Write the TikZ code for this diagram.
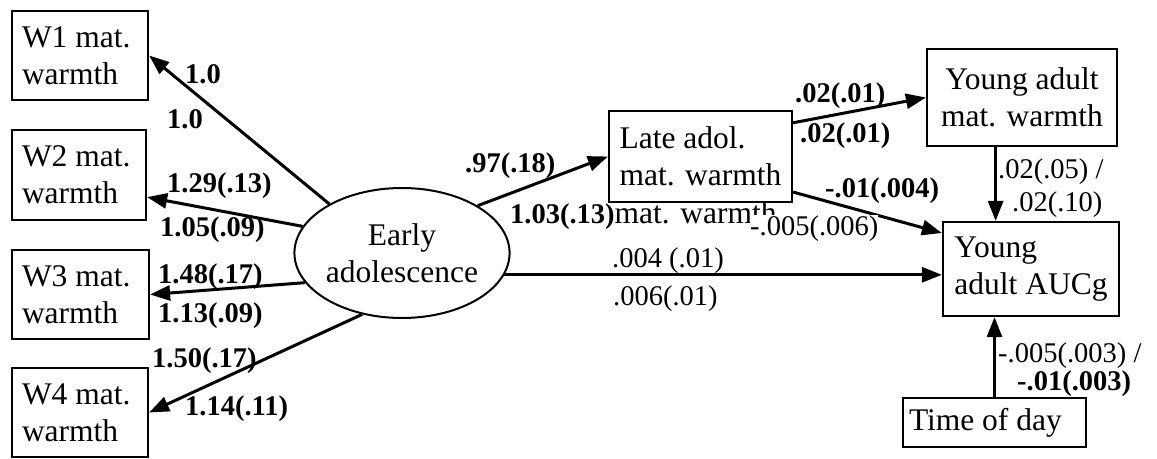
\documentclass[tikz,border=0pt]{standalone}
\usepackage{fontspec}
\setmainfont{Liberation Serif}
\usetikzlibrary{arrows.meta,shapes.geometric,calc}
\begin{document}
\begin{tikzpicture}[x=1pt,y=-1pt,
  box/.style={draw,line width=2.2pt,rectangle,inner sep=0pt,align=flush left,font=\fontsize{31.5}{37}\selectfont},
  lbl/.style={inner sep=0pt,anchor=base west,font=\fontsize{28.5}{33}\selectfont},
  blbl/.style={inner sep=0pt,anchor=base west,font=\fontsize{28.5}{33}\selectfont\bfseries},
  arr/.style={line width=3pt,-{Triangle[length=20pt,width=15pt]}}]
\useasboundingbox (0,0) rectangle (1157,458);
% boxes
\node[box,minimum width=136pt,minimum height=89pt,text width=116pt] (w1) at (80,55.5) {W1 mat.\\warmth};
\node[box,minimum width=134pt,minimum height=90pt,text width=114pt] (w2) at (79,175) {W2 mat.\\warmth};
\node[box,minimum width=137pt,minimum height=89pt,text width=117pt] (w3) at (80.5,294.5) {W3 mat.\\warmth};
\node[box,minimum width=136pt,minimum height=89pt,text width=116pt] (w4) at (80,412.5) {W4 mat.\\warmth};
\node[draw,ellipse,line width=2pt,inner sep=0pt,minimum width=200pt,minimum height=130pt,align=center,font=\fontsize{31.5}{37}\selectfont] (early) at (402,253) {Early\\adolescence};
\node[box,minimum width=183pt,minimum height=91pt,align=left] (late) at (700.5,156.5) {Late adol.\\mat. warmth};
\node[box,minimum width=190pt,minimum height=97pt,align=center] (yaw) at (1022,97.5) {Young adult\\mat. warmth};
\node[box,minimum width=176pt,minimum height=94pt,align=left] (auc) at (1031,269) {Young\\adult AUCg};
\node[box,minimum width=183pt,minimum height=49pt,text width=171pt] (tod) at (994.5,422.5) {Time of day};
% connectors
\draw[arr] (early.146) -- (w1.east);
\draw[arr] (early.165) -- (w2.-18);
\draw[arr] (early.197) -- (w3.east);
\draw[arr] (early.237) -- (w4.east);
\draw[arr] (early.32) -- (late.west);
\draw[arr] (early.-12) -- (early.-12 -| auc.west);
\draw[arr] (late.20) -- (yaw.west);
\draw[arr] (late.-21) -- (auc.158);
\draw[arr] (yaw.-118) -- (yaw.-118 |- auc.north);
\draw[arr] (tod.north) -- (tod.north |- auc.south);
% labels
\node[blbl] (l1a) at (185,83) {1.0};
\node[blbl] (l1b) at (167,128) {1.0};
\node[blbl] (l2a) at (167,192) {1.29(.13)};
\node[blbl] (l2b) at (160,236) {1.05(.09)};
\node[blbl] (l3a) at (158,283) {1.48(.17)};
\node[blbl] (l3b) at (158,322) {1.13(.09)};
\node[blbl] (l4a) at (152,367) {1.50(.17)};
\node[blbl] (l4b) at (185,415) {1.14(.11)};
\node[blbl] (l5a) at (465,172) {.97(.18)};
\node[lbl] (l5b) at (510,223) {\textbf{1.03(.13)}{\fontsize{31.5}{37}\selectfont mat. warmth}};
\node[lbl] (l6a) at (612,267) {.004 (.01)};
\node[lbl] (l6b) at (613,305) {.006(.01)};
\node[blbl] (l7a) at (795,102) {.02(.01)};
\node[blbl] (l7b) at (800,142) {.02(.01)};
\node[blbl] (l8a) at (825,197) {-.01(.004)};
\node[lbl,fill=white] (l8b) at (750,235) {-.005(.006)};
\node[lbl] (l9a) at (998,178) {.02(.05) /};
\node[lbl] (l9b) at (1012,211) {.02(.10)};
\node[lbl] (l10a) at (998,362) {-.005(.003) /};
\node[blbl] (l10b) at (1017,390) {-.01(.003)};
\end{tikzpicture}
\end{document}
